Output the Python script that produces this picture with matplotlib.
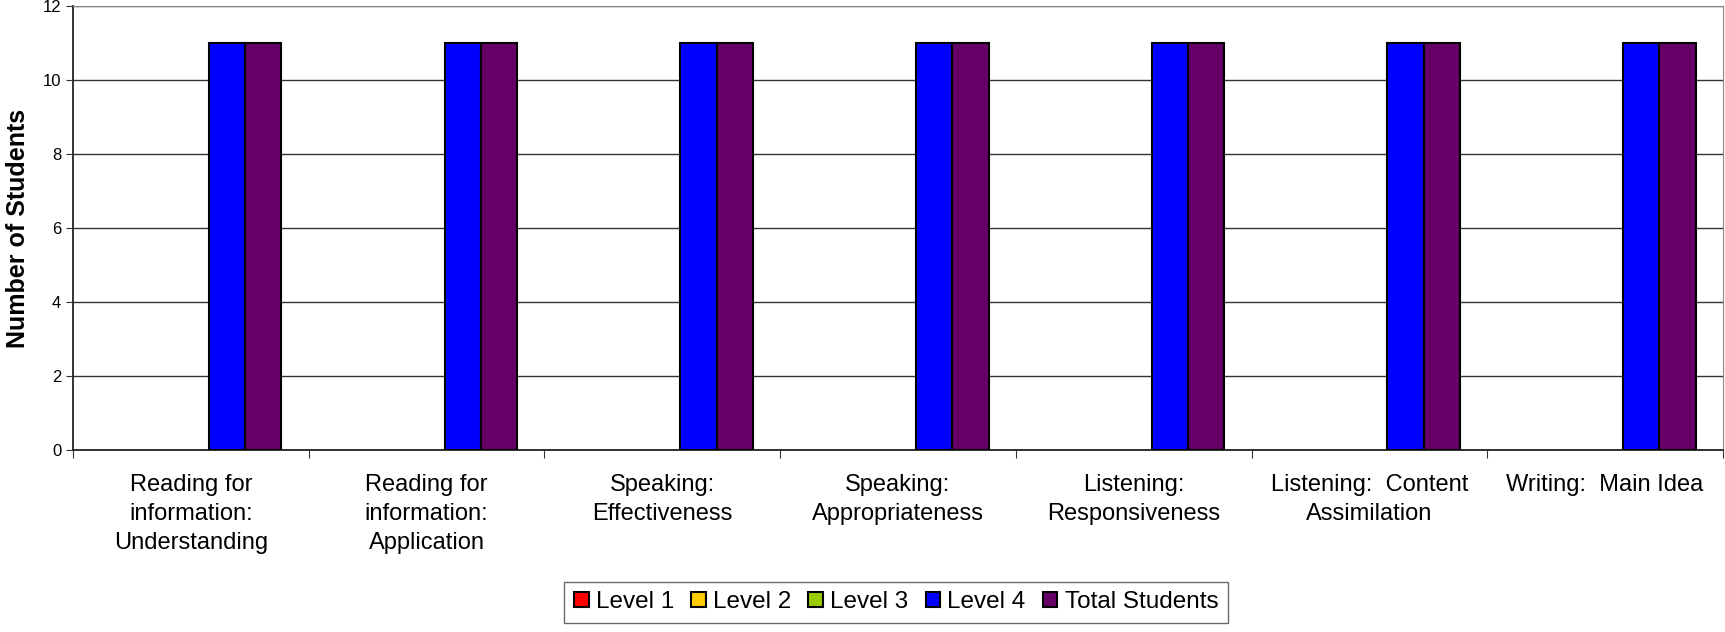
import matplotlib
matplotlib.use('Agg')
import matplotlib.pyplot as plt
from matplotlib.patches import Patch
import numpy as np

plt.rcParams['font.family'] = ['Liberation Sans', 'DejaVu Sans']

categories = ['Reading for\ninformation:\nUnderstanding',
              'Reading for\ninformation:\nApplication',
              'Speaking:\nEffectiveness',
              'Speaking:\nAppropriateness',
              'Listening:\nResponsiveness',
              'Listening:  Content\nAssimilation',
              'Writing:  Main Idea']
series_names = ['Level 1', 'Level 2', 'Level 3', 'Level 4', 'Total Students']
level1 = [0, 0, 0, 0, 0, 0, 0]
level2 = [0, 0, 0, 0, 0, 0, 0]
level3 = [0, 0, 0, 0, 0, 0, 0]
level4 = [11, 11, 11, 11, 11, 11, 11]
total = [11, 11, 11, 11, 11, 11, 11]
colors = ['#FF0000', '#FFCC00', '#99CC00', '#0000FF', '#660066']

fig = plt.figure(figsize=(17.25, 6.32), dpi=100)
ax = fig.add_axes([0.0423, 0.288, 0.9565, 0.7025])

x = np.arange(len(categories))
n = len(series_names)
w = 1 / (n + 1.5)
handles = []
for i, (name, vals, c) in enumerate(zip(series_names, [level1, level2, level3, level4, total], colors)):
    h = ax.bar(x + (i - (n - 1) / 2) * w, vals, w, color=c, edgecolor='black', linewidth=1.5,
               zorder=3)
    # empty bars leave no outline on the baseline
    for p, v in zip(h.patches, vals):
        if v == 0:
            p.set_linewidth(0)
    handles.append(Patch(facecolor=c, edgecolor='black', linewidth=1.5, label=name))

ax.set_xlim(-0.5, len(categories) - 0.5)
ax.set_ylim(0, 12)
ax.set_yticks(range(0, 13, 2))
ax.yaxis.grid(True, color='#333333', linewidth=1)
ax.set_axisbelow(True)
ax.set_xticks(np.arange(len(categories) + 1) - 0.5, minor=False)
ax.set_xticklabels([])
ax.set_xticks(x, minor=True)
ax.set_xticklabels(categories, minor=True, fontsize=17, linespacing=1.42)
ax.tick_params(axis='x', which='minor', length=0, pad=17)
ax.tick_params(axis='x', which='major', length=6, color='#333333')
ax.tick_params(axis='y', labelsize=12, length=5, color='#333333')
ax.set_ylabel('Number of Students', fontsize=18, fontweight='bold', labelpad=9)

for s in ['top', 'right']:
    ax.spines[s].set_color('#888888')
for s in ['left', 'bottom']:
    ax.spines[s].set_color('#222222')
    ax.spines[s].set_linewidth(1.3)

leg = fig.legend(handles=handles, loc='lower center', bbox_to_anchor=(0.5195, -0.005), ncol=5,
                 fontsize=17.5, frameon=True, fancybox=False, edgecolor='#444444',
                 handlelength=0.6, handleheight=0.6, handletextpad=0.3, columnspacing=0.7,
                 borderpad=0.4)
leg.get_frame().set_linewidth(1)

fig.savefig('out.png', dpi=100)
